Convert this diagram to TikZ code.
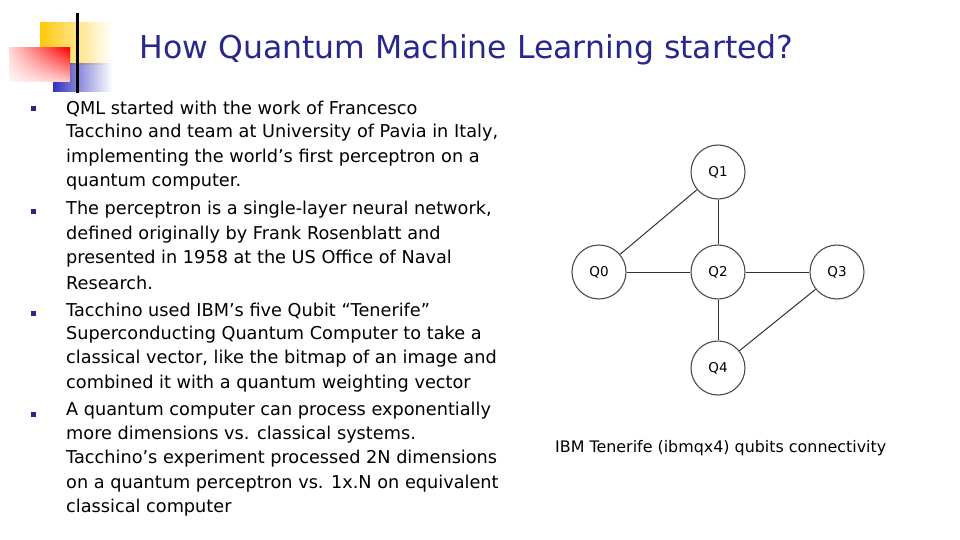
\documentclass[tikz,border=0pt]{standalone}
\usepackage{fontspec}
\setmainfont{DejaVu Sans}
\usetikzlibrary{fadings}
\definecolor{ttl}{RGB}{40,40,140}
\definecolor{ylw}{RGB}{255,200,10}
\definecolor{blu}{RGB}{50,50,190}
\begin{document}
\begin{tikzpicture}[x=1pt,y=-1pt,
  qb/.style={circle,draw=black!70,line width=1.1pt,minimum size=54pt,inner sep=0pt,font=\fontsize{13.5}{14}\selectfont},
  ed/.style={black!80,line width=1pt},
  ln/.style={anchor=west,inner sep=0pt,font=\fontsize{17.7}{20}\selectfont},
  bul/.style={fill=ttl,minimum size=5pt,inner sep=0pt}]
\useasboundingbox (0,0) rectangle (960,540);
% logo
\fill[ylw,path fading=east] (40,22) rectangle (112,65);
\fill[blu,path fading=east] (53,63) rectangle (112,92);
\shade[left color=red!15,right color=red] (9,48) rectangle (70,82);
\fill[white,path fading=north,opacity=0.8] (9,48) rectangle (70,82);
\draw[line width=3pt] (77,13) -- (77,93);
\node[anchor=west,text=ttl,font=\fontsize{31.5}{33}\selectfont] (title) at (136,50) {How Quantum Machine Learning started?};
% bullets
\foreach \y/\n in {109/b1,211/b2,313/b3,414/b4} \node[bul] (\n) at (33,\y) {};
\foreach \y/\t [count=\i] in {
108/{QML started with the work of Francesco},
132/{Tacchino and team at University of Pavia in Italy,},
157/{implementing the world’s first perceptron on a},
181/{quantum computer.},
209/{The perceptron is a single-layer neural network,},
234/{defined originally by Frank Rosenblatt and},
258/{presented in 1958 at the US Office of Naval},
282/{Research.},
310/{Tacchino used IBM’s five Qubit “Tenerife”},
334/{Superconducting Quantum Computer to take a},
358/{classical vector, like the bitmap of an image and},
383/{combined it with a quantum weighting vector},
410/{A quantum computer can process exponentially},
434/{more dimensions vs. classical systems.},
458/{Tacchino’s experiment processed 2N dimensions},
483/{on a quantum perceptron vs. 1x.N on equivalent},
507/{classical computer}}
  \node[ln] (l\i) at (66,\y+1) {\t};
% graph
\node[qb] (q1) at (718,172) {Q1};
\node[qb] (q0) at (599,272) {Q0};
\node[qb] (q2) at (718,272) {Q2};
\node[qb] (q3) at (837,272) {Q3};
\node[qb] (q4) at (718,368) {Q4};
\draw[ed] (q0) -- (q1);
\draw[ed] (q1) -- (q2);
\draw[ed] (q0) -- (q2);
\draw[ed] (q2) -- (q3);
\draw[ed] (q2) -- (q4);
\draw[ed] (q3) -- (q4);
\node[anchor=west,inner sep=0pt,font=\fontsize{15.9}{17}\selectfont] (cap) at (555,448) {IBM Tenerife (ibmqx4) qubits connectivity};
\end{tikzpicture}
\end{document}
